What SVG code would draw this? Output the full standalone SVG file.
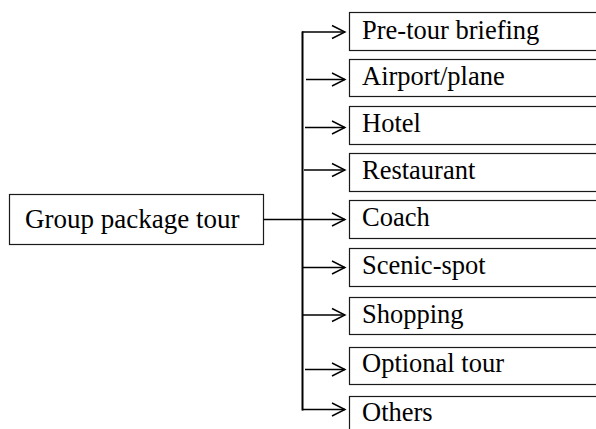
<svg xmlns="http://www.w3.org/2000/svg" width="596" height="429" viewBox="0 0 596 429">
  <style>
    .box { fill: #fff; stroke: #1a1a1a; stroke-width: 1.2; }
    .label { font-family: "Liberation Serif", "Times New Roman", serif; font-size: 26.5px; fill: #000; }
    .root-label { font-size: 27px; }
    .wire { fill: none; stroke: #000; stroke-width: 1.3; }
    .trunk { fill: none; stroke: #000; stroke-width: 2; }
  </style>
  <defs>
    <marker id="open-arrow" viewBox="0 0 16 16" refX="14" refY="8" markerWidth="16" markerHeight="16" markerUnits="userSpaceOnUse" orient="auto">
      <path d="M1,1.5 L14,8 L1,14.5" fill="none" stroke="#000" stroke-width="1.4"/>
    </marker>
  </defs>

  <rect width="596" height="429" fill="#fff"/>

  <g id="group-package-tour">
    <rect class="box" x="9.5" y="194.5" width="254" height="50"/>
    <text class="label root-label" x="25" y="228">Group package tour</text>
  </g>

  <g id="pre-tour-briefing">
    <rect class="box" x="349.5" y="12.5" width="260" height="38"/>
    <text class="label" x="362" y="38.5">Pre-tour briefing</text>
  </g>
  <g id="airport-plane">
    <rect class="box" x="349.5" y="59.5" width="260" height="37"/>
    <text class="label" x="362" y="84.5">Airport/plane</text>
  </g>
  <g id="hotel">
    <rect class="box" x="349.5" y="106.5" width="260" height="38"/>
    <text class="label" x="362" y="131.5">Hotel</text>
  </g>
  <g id="restaurant">
    <rect class="box" x="349.5" y="153.5" width="260" height="38"/>
    <text class="label" x="362" y="179">Restaurant</text>
  </g>
  <g id="coach">
    <rect class="box" x="349.5" y="200.5" width="260" height="38"/>
    <text class="label" x="362" y="226">Coach</text>
  </g>
  <g id="scenic-spot">
    <rect class="box" x="349.5" y="248.5" width="260" height="38"/>
    <text class="label" x="362" y="273.5">Scenic-spot</text>
  </g>
  <g id="shopping">
    <rect class="box" x="349.5" y="297.5" width="260" height="37"/>
    <text class="label" x="362" y="323">Shopping</text>
  </g>
  <g id="optional-tour">
    <rect class="box" x="349.5" y="347.5" width="260" height="37"/>
    <text class="label" x="362" y="372">Optional tour</text>
  </g>
  <g id="others">
    <rect class="box" x="349.5" y="396.5" width="260" height="40"/>
    <text class="label" x="362" y="421">Others</text>
  </g>

  <g id="connectors">
    <line class="trunk" x1="302.5" y1="31.5" x2="302.5" y2="410.5"/>
    <line class="wire" x1="302" y1="32" x2="345" y2="32" marker-end="url(#open-arrow)"/>
    <line class="wire" x1="306" y1="79.5" x2="345" y2="79.5" marker-end="url(#open-arrow)"/>
    <line class="wire" x1="305" y1="127.5" x2="345" y2="127.5" marker-end="url(#open-arrow)"/>
    <line class="wire" x1="304" y1="170" x2="345" y2="170" marker-end="url(#open-arrow)"/>
    <line class="wire" x1="263.5" y1="219.5" x2="345" y2="219.5" marker-end="url(#open-arrow)"/>
    <line class="wire" x1="303" y1="267.5" x2="345" y2="267.5" marker-end="url(#open-arrow)"/>
    <line class="wire" x1="303" y1="315" x2="345" y2="315" marker-end="url(#open-arrow)"/>
    <line class="wire" x1="305" y1="369.5" x2="345" y2="369.5" marker-end="url(#open-arrow)"/>
    <line class="wire" x1="302" y1="409.5" x2="345" y2="409.5" marker-end="url(#open-arrow)"/>
  </g>
</svg>
